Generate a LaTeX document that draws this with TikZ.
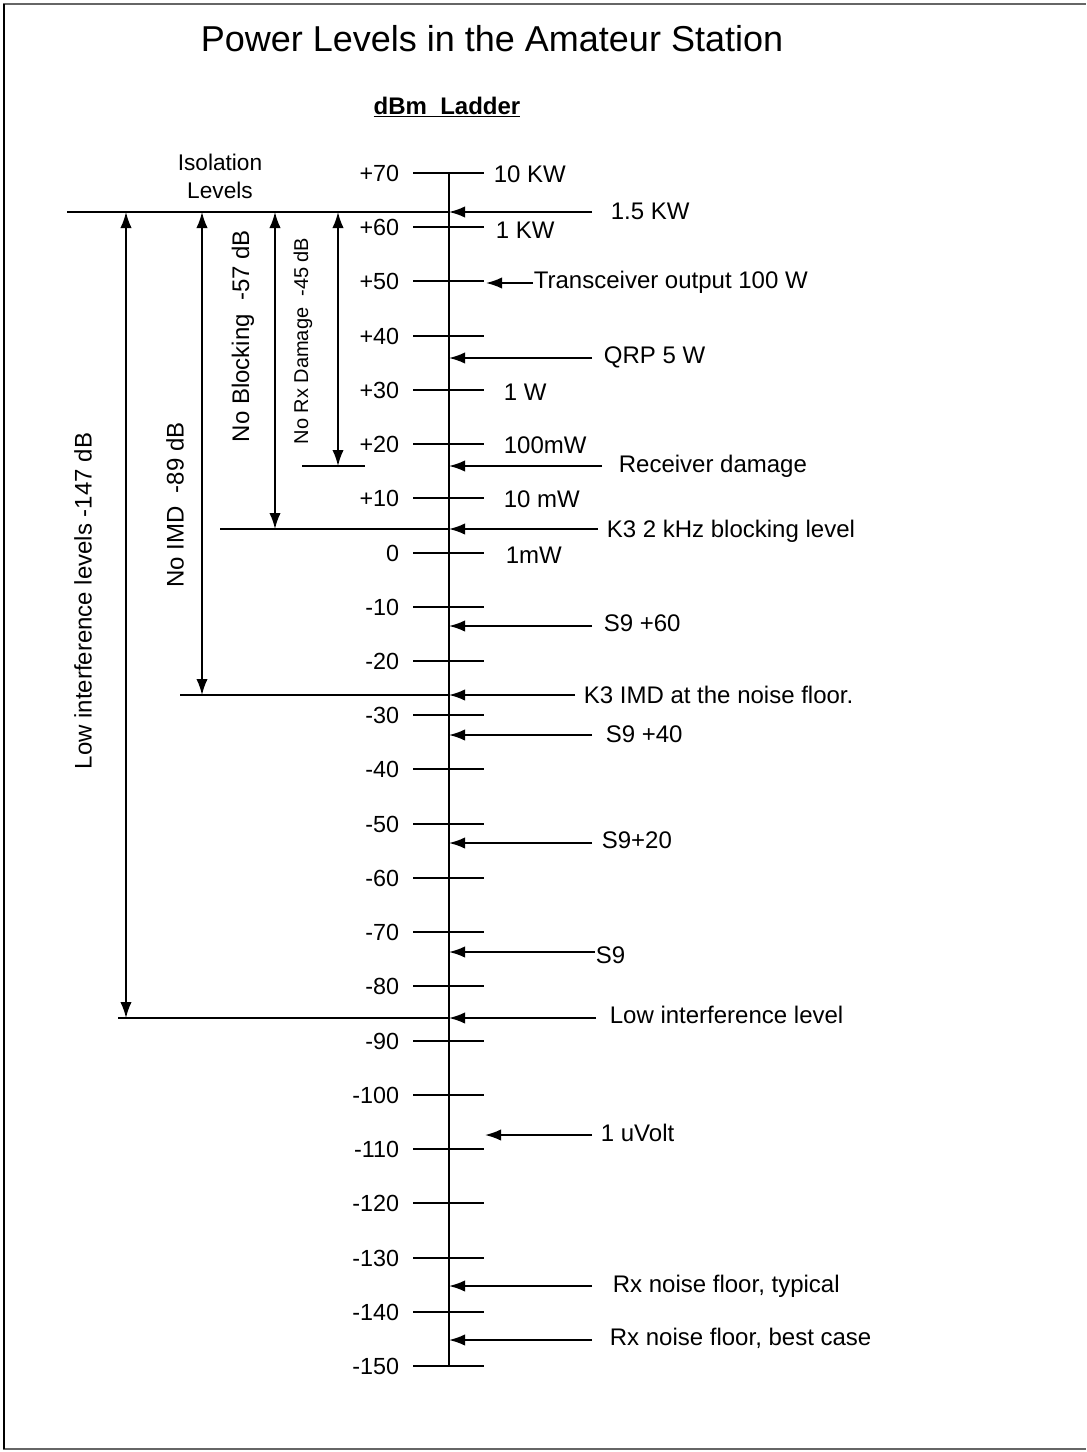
\documentclass[tikz,border=0pt]{standalone}
\usepackage{fontspec}
\setmainfont{Liberation Sans}
\usetikzlibrary{arrows.meta}
\begin{document}
\begin{tikzpicture}[x=0.75pt,y=-0.75pt,line width=1.3pt,
  ticklab/.style={anchor=east,inner sep=0pt,font=\fontsize{17.5}{20}\selectfont},
  rlab/.style={anchor=west,inner sep=0pt,font=\fontsize{18}{20}\selectfont},
  arr/.style={-{Latex[length=12pt,width=8.5pt]}},
  darr/.style={{Latex[length=12pt,width=8.5pt]}-{Latex[length=12pt,width=8.5pt]}},
  vlab/.style={rotate=90,inner sep=0pt,font=\fontsize{18}{20}\selectfont}]
\useasboundingbox (0,0) rectangle (1086,1452);
% frame
\draw[black!60,line width=1.5pt] (3,4) -- (1086,4);
\draw[black!60,line width=1.5pt] (3,1449) -- (1086,1449);
\draw[line width=1.3pt] (4,4) -- (4,1449);
% titles
\node[inner sep=0pt,font=\fontsize{27}{30}\selectfont] (title) at (492,39) {Power Levels in the Amateur Station};
\node[inner sep=0pt,font=\fontsize{18}{20}\selectfont\bfseries] (sub) at (447,107) {\underline{dBm\ \ Ladder}};
\node[inner sep=0pt,align=center,font=\fontsize{17}{21}\selectfont] (iso) at (220,176) {Isolation\\Levels};
% axis
\coordinate (axtop) at (449,173);
\coordinate (axbot) at (449,1366);
\draw (axtop) -- (axbot);
% ticks
\foreach \i/\v/\lab in {0/70/+70,1/60/+60,2/50/+50,3/40/+40,4/30/+30,5/20/+20,6/10/+10,7/0/0,
  8/-10/-10,9/-20/-20,10/-30/-30,11/-40/-40,12/-50/-50,13/-60/-60,14/-70/-70,15/-80/-80,
  16/-90/-90,17/-100/-100,18/-110/-110,19/-120/-120,20/-130/-130,21/-140/-140,22/-150/-150}{
  \pgfmathsetmacro\yy{round(173+(70-\v)*5.4227)}
  \coordinate (tl\i) at (413,\yy);
  \coordinate (tr\i) at (484,\yy);
  \draw (tl\i) -- (tr\i);
  \node[ticklab] (tn\i) at (400,\yy) {\lab};
}
% tick value labels
\node[rlab] (w0) at (493,174) {10 KW};
\node[rlab] (w1) at (495,230) {1 KW};
\node[rlab] (w4) at (503,392) {1 W};
\node[rlab] (w5) at (503,445) {100mW};
\node[rlab] (w6) at (503,499) {10 mW};
\node[rlab] (w7) at (505,555) {1mW};
% arrows pointing at axis
\coordinate (a1) at (449,212);  \coordinate (r1) at (592,212);
\node[rlab] (t1) at (610,211) {1.5 KW};
\draw[arr] (r1) -- (a1);
\coordinate (a2) at (486,283);  \node[rlab] (t2) at (533,282) {Transceiver output 100 W};
\draw[arr] (t2.west |- a2) -- (a2);
\coordinate (a3) at (449,358);  \coordinate (r3) at (592,358);
\node[rlab] (t3) at (603,357) {QRP 5 W};
\draw[arr] (r3) -- (a3);
\coordinate (a4) at (449,466);  \coordinate (r4) at (602,466);
\node[rlab] (t4) at (618,466) {Receiver damage};
\draw[arr] (r4) -- (a4);
\coordinate (a5) at (449,529);  \coordinate (r5) at (598,529);
\node[rlab] (t5) at (606,531) {K3 2 kHz blocking level};
\draw[arr] (r5) -- (a5);
\coordinate (a6) at (449,626);  \coordinate (r6) at (592,626);
\node[rlab] (t6) at (603,623) {S9 +60};
\draw[arr] (r6) -- (a6);
\coordinate (a7) at (449,695);  \coordinate (r7) at (575,695);
\node[rlab] (t7) at (583,695) {K3 IMD at the noise floor.};
\draw[arr] (r7) -- (a7);
\coordinate (a8) at (449,735);  \coordinate (r8) at (592,735);
\node[rlab] (t8) at (605,734) {S9 +40};
\draw[arr] (r8) -- (a8);
\coordinate (a9) at (449,843);  \coordinate (r9) at (592,843);
\node[rlab] (t9) at (601,840) {S9+20};
\draw[arr] (r9) -- (a9);
\coordinate (a10) at (449,952);
\node[rlab] (t10) at (595,955) {S9};
\draw[arr] (t10.west |- a10) -- (a10);
\coordinate (a11) at (449,1018); \coordinate (r11) at (596,1018);
\node[rlab] (t11) at (609,1015) {Low interference level};
\draw[arr] (r11) -- (a11);
\coordinate (a12) at (485,1135); \coordinate (r12) at (592,1135);
\node[rlab] (t12) at (600,1133) {1 uVolt};
\draw[arr] (r12) -- (a12);
\coordinate (a13) at (449,1286); \coordinate (r13) at (592,1286);
\node[rlab] (t13) at (612,1286) {Rx noise floor, typical};
\draw[arr] (r13) -- (a13);
\coordinate (a14) at (449,1340); \coordinate (r14) at (592,1340);
\node[rlab] (t14) at (609,1338) {Rx noise floor, best case};
\draw[arr] (r14) -- (a14);
% isolation reference lines
\coordinate (l1) at (67,212);   \draw (l1) -- (a1);
\coordinate (l4a) at (302,466); \coordinate (l4b) at (365,466); \draw (l4a) -- (l4b);
\coordinate (l5) at (220,529);  \draw (l5) -- (a5);
\coordinate (l7) at (180,695);  \draw (l7) -- (a7);
\coordinate (l11) at (118,1018); \draw (l11) -- (a11);
% vertical double arrows
\coordinate (v1t) at (126,212); \coordinate (v1b) at (126,1018);
\draw[darr] (v1t) -- (v1b);
\coordinate (v2t) at (202,212); \coordinate (v2b) at (202,695);
\draw[darr] (v2t) -- (v2b);
\coordinate (v3t) at (275,212); \coordinate (v3b) at (275,529);
\draw[darr] (v3t) -- (v3b);
\coordinate (v4t) at (338,212); \coordinate (v4b) at (338,466);
\draw[darr] (v4t) -- (v4b);
% vertical labels
\node[vlab] (vl1) at (83,601) {Low interference levels -147 dB};
\node[vlab] (vl2) at (175,505) {No IMD\ \ -89 dB};
\node[vlab] (vl3) at (243,336) {No Blocking\ \ -57 dB};
\node[vlab,font=\fontsize{15}{17}\selectfont] (vl4) at (303,341) {No Rx Damage\ \ -45 dB};
\end{tikzpicture}
\end{document}
